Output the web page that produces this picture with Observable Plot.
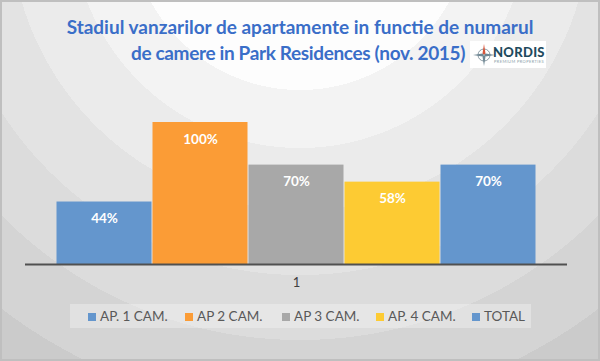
<!DOCTYPE html>
<html><head><meta charset="utf-8">
<script src="https://cdn.jsdelivr.net/npm/d3@7"></script>
<script src="https://cdn.jsdelivr.net/npm/@observablehq/plot@0.6"></script>
<style>
html,body{margin:0;padding:0}
body{width:600px;height:361px;overflow:hidden;position:relative;font-family:Lato,sans-serif;
background: radial-gradient(circle at 300px -80px, #fdfdfd 0 170px, #f3f3f3 170px 228px, #ebebeb 228px 290px, #e3e3e3 290px 355px, #dcdcdc 355px 420px, #d4d4d4 420px 490px, #cbcbcb 490px);}
#frame{position:absolute;left:0;top:0;width:600px;height:361px;box-sizing:border-box;border:2px solid #bfbfbf;pointer-events:none;z-index:5}
#title{position:absolute;left:0;top:14px;width:600px;text-align:center;color:#3a6ec8;font-weight:bold;font-size:19px;line-height:26px;z-index:3}
#title .l2{letter-spacing:-0.35px;position:relative;left:-2px}
#logo{position:absolute;left:470px;top:41px;width:76px;height:27px;background:#fff;z-index:4}
#logo .n{position:absolute;left:23px;top:3px;font-family:Lato,sans-serif;font-weight:900;font-size:13px;color:#1f4b5e;letter-spacing:0.3px}
#logo .p{position:absolute;left:24px;top:18px;font-size:4px;color:#8aa0aa;letter-spacing:0.4px}
#logo svg{position:absolute;left:3px;top:2px}
#chart{position:absolute;left:0;top:0}
#legend{position:absolute;left:70px;top:304px;width:461px;height:24px;background:rgba(255,255,255,0.3)}
.item{position:absolute;top:4px;font-size:13.5px;color:#595959;line-height:16px;white-space:nowrap}
.sw{display:inline-block;width:8px;height:8px;margin-right:4px;vertical-align:0px}
</style></head><body>
<div id="frame"></div>
<div id="title">Stadiul vanzarilor de apartamente in functie de numarul<br><span class="l2">de camere in Park Residences (nov. 2015)</span></div>
<div id="logo">
<svg width="22" height="23" viewBox="0 0 22 23"><circle cx="11" cy="12" r="6" fill="none" stroke="#8a9aa3" stroke-width="1"/><path d="M11 1 L12.5 10.5 L11 12 L9.5 10.5Z" fill="#d9553a"/><path d="M11 23 L12.5 13.5 L11 12 L9.5 13.5Z" fill="#6f8794"/><path d="M0 12 L9.5 10.5 L11 12 L9.5 13.5Z" fill="#6f8794"/><path d="M22 12 L12.5 10.5 L11 12 L12.5 13.5Z" fill="#6f8794"/></svg>
<span class="n">NORDIS</span><span class="p">PREMIUM PROPERTIES</span></div>
<div id="chart"></div>
<div id="legend"></div>
<script>
const category = ["1"];
const series = ["AP. 1 CAM.", "AP 2 CAM.", "AP 3 CAM.", "AP. 4 CAM.", "TOTAL"];
const values = [44, 100, 70, 58, 70];
const colors = ["#6496cd", "#fb9c36", "#a8a8a8", "#fdcb33", "#6496cd"];
const legendX = [88, 185, 282, 376, 472];

const data = series.map((s, i) => ({group: category[0], series: s, value: values[i]}));

const chart = Plot.plot({
  width: 600, height: 300,
  marginTop: 122, marginBottom: 36, marginLeft: 25, marginRight: 33,
  style: {background: "transparent", fontFamily: "Lato, sans-serif", fontSize: "13px", color: "#404040"},
  fx: {domain: category, label: null, axis: "bottom", tickSize: 0, tickPadding: 13, padding: 0},
  x: {domain: series, axis: null, paddingInner: 0, paddingOuter: 0.32},
  y: {domain: [0, 100], axis: null},
  color: {domain: series, range: colors},
  marks: [
    Plot.barY(data, {fx: "group", x: "series", y: "value", fill: "series", insetLeft: 0.5, insetRight: 0.5}),
    Plot.text(data, {fx: "group", x: "series", y: "value", text: d => d.value + "%", dy: 17, fill: "white", fontWeight: "bold", fontSize: 13.5}),
    Plot.ruleY([0], {stroke: "#505050", strokeWidth: 2})
  ]
});
document.getElementById("chart").appendChild(chart);

const legend = document.getElementById("legend");
series.forEach((s, i) => {
  const it = document.createElement("div");
  it.className = "item";
  it.style.left = (legendX[i] - 70) + "px";
  it.innerHTML = `<span class="sw" style="background:${colors[i]}"></span>${s}`;
  legend.appendChild(it);
});
</script>
</body></html>
